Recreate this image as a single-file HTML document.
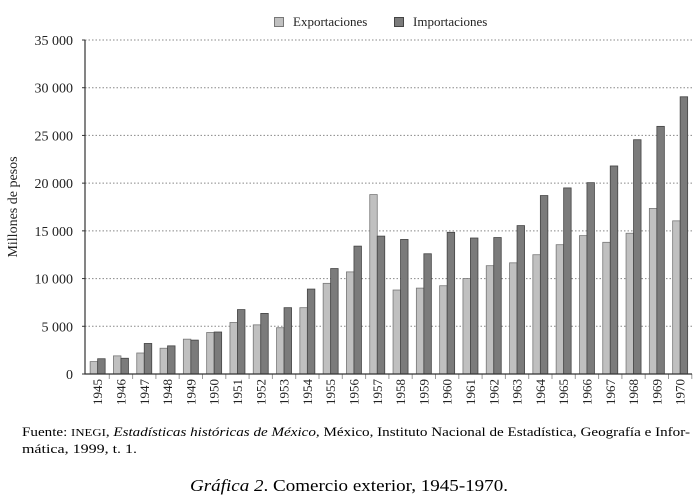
<!DOCTYPE html>
<html><head><meta charset="utf-8"><style>
body{margin:0;background:#fff;width:698px;height:497px;overflow:hidden;font-family:"Liberation Serif",serif;color:#222}
svg{display:block}
</style></head><body>
<svg width="698" height="497">
<g id="chart"></g>
<text x="22" y="436" font-size="13" textLength="668" lengthAdjust="spacingAndGlyphs">Fuente: <tspan font-size="11">INEGI</tspan>, <tspan font-style="italic">Estadísticas históricas de México,</tspan> México, Instituto Nacional de Estadística, Geografía e Infor-</text>
<text x="22" y="453" font-size="13" textLength="115" lengthAdjust="spacingAndGlyphs">mática, 1999, t. 1.</text>
<text x="190" y="491" font-size="17" textLength="318" lengthAdjust="spacingAndGlyphs"><tspan font-style="italic">Gráfica 2</tspan>. Comercio exterior, 1945-1970.</text>
</svg>
<script>
const years=[1945,1946,1947,1948,1949,1950,1951,1952,1953,1954,1955,1956,1957,1958,1959,1960,1961,1962,1963,1964,1965,1966,1967,1968,1969,1970];
const exportsV=[1300,1900,2200,2700,3650,4350,5400,5150,4850,6950,9500,10700,18800,8800,9000,9250,10000,11350,11650,12500,13550,14500,13800,14750,17350,16050];
const importsV=[1600,1650,3200,2950,3550,4400,6750,6350,6950,8900,11050,13400,14450,14100,12600,14850,14250,14300,15550,18700,19500,20050,21800,24550,25950,29050];
const yTicks=[0,5000,10000,15000,20000,25000,30000,35000];
const yTickLabels=["0","5 000","10 000","15 000","20 000","25 000","30 000","35 000"];
const NS="http://www.w3.org/2000/svg";
const g=document.getElementById('chart');
const x0=86,gw=23.3,y0=374,yTop=40,yMax=35000;
const y=v=>y0-(v/yMax)*(y0-yTop);
const xg=i=>x0+i*gw;
function mk(t,a){const e=document.createElementNS(NS,t);for(const k in a)e.setAttribute(k,a[k]);g.appendChild(e);return e;}
yTicks.forEach((t,i)=>{
  if(t>0){const l=mk('line',{x1:85,x2:692,y1:y(t),y2:y(t),stroke:'#888','stroke-dasharray':'1.5,2','stroke-width':1});
  
  }
  const tk=mk('line',{x1:82,x2:85,y1:y(t),y2:y(t),stroke:'#333'});
  
  
  const tx=mk('text',{x:73,y:y(t)+5,'font-size':14,'text-anchor':'end',fill:'#222'});
  tx.textContent=yTickLabels[i];
  
  
});
years.forEach((yr,i)=>{
  const c=xg(i)+gw/2;
  const e=mk('rect',{x:c-7.5,y:y(exportsV[i]),width:7.5,height:y0-y(exportsV[i]),fill:'#c0c0c0',stroke:'#777','stroke-width':0.8});
  
  
  const m=mk('rect',{x:c,y:y(importsV[i]),width:7.5,height:y0-y(importsV[i]),fill:'#7b7b7b',stroke:'#444','stroke-width':0.8});
  
  
  const tk=mk('line',{x1:xg(i+1),x2:xg(i+1),y1:y0,y2:y0+5,stroke:'#999'});
  
  
  const t=mk('text',{x:0,y:0,'font-size':13,'text-anchor':'end',transform:`translate(${c+4.5},379) rotate(-90)`,fill:'#222'});
  t.textContent=yr;
  
  
});
const ax=mk('path',{d:`M85 40 V374 H692`,stroke:'#333',fill:'none','stroke-width':1.2});


const yt=mk('text',{x:0,y:0,'font-size':14,'text-anchor':'middle',transform:'translate(17,207) rotate(-90)',fill:'#222'});
yt.textContent='Millones de pesos';


const l1=mk('rect',{x:274.5,y:17.5,width:9,height:9,fill:'#c0c0c0',stroke:'#777'});


const t1=mk('text',{x:293,y:26,'font-size':13,fill:'#222'});t1.textContent='Exportaciones';


const l2=mk('rect',{x:394.5,y:17.5,width:9,height:9,fill:'#7b7b7b',stroke:'#444'});


const t2=mk('text',{x:413,y:26,'font-size':13,fill:'#222'});t2.textContent='Importaciones';


</script>
</body></html>
